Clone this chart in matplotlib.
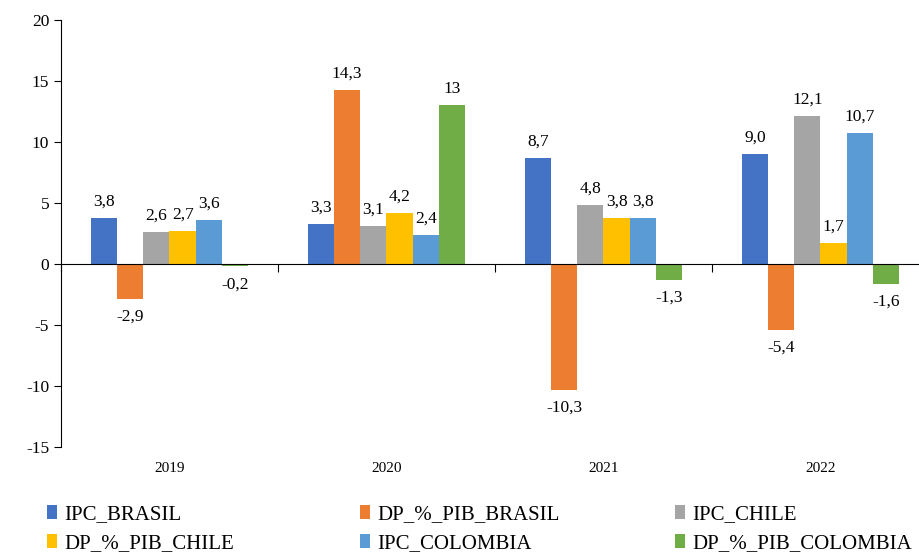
import numpy as np
import matplotlib
matplotlib.use("Agg")
import matplotlib.pyplot as plt
from matplotlib.patches import Patch
import matplotlib.transforms as mtransforms

years = ["2019", "2020", "2021", "2022"]
series = ["IPC_BRASIL", "DP_%_PIB_BRASIL", "IPC_CHILE",
          "DP_%_PIB_CHILE", "IPC_COLOMBIA", "DP_%_PIB_COLOMBIA"]
ipc_brasil = [3.8, 3.3, 8.7, 9.0]
dp_brasil = [-2.9, 14.3, -10.3, -5.4]
ipc_chile = [2.6, 3.1, 4.8, 12.1]
dp_chile = [2.7, 4.2, 3.8, 1.7]
ipc_colombia = [3.6, 2.4, 3.8, 10.7]
dp_colombia = [-0.2, 13, -1.3, -1.6]
colors = ["#4472C4", "#ED7D31", "#A5A5A5", "#FFC000", "#5B9BD5", "#70AD47"]

values = [ipc_brasil, dp_brasil, ipc_chile, dp_chile, ipc_colombia, dp_colombia]

plt.rcParams['font.family'] = ['Liberation Serif', 'DejaVu Serif']
plt.rcParams['axes.unicode_minus'] = False

fig = plt.figure(figsize=(9.2, 5.54), dpi=100)
ax = fig.add_axes([61 / 920, 1 - 447 / 554, 868 / 920, 427 / 554])

x = np.arange(len(years))
width = 0.121
for i, (name, vals, col) in enumerate(zip(series, values, colors)):
    pos = x + (i - 2.5) * width
    ax.bar(pos, vals, width, color=col, label=name, zorder=2)
    for xp, v in zip(pos, vals):
        txt = str(v) if isinstance(v, int) else f"{v:.1f}".replace(".", ",")
        if v >= 0:
            ax.annotate(txt, (xp, v), xytext=(0, 6), textcoords="offset points",
                        ha="center", va="bottom", fontsize=12.5)
        else:
            ax.annotate(txt, (xp, v), xytext=(0, -7), textcoords="offset points",
                        ha="center", va="top", fontsize=12.5)

ax.set_xlim(-0.5, 3.5)
ax.set_ylim(-15, 20)
ax.set_yticks(range(-15, 21, 5))
ax.tick_params(axis="y", labelsize=12.5, length=5, direction="out")

# category axis drawn at zero, ticks on group boundaries
ax.spines["top"].set_visible(False)
ax.spines["right"].set_visible(False)
ax.spines["bottom"].set_position(("data", 0))
ax.spines["bottom"].set_zorder(3)
ax.set_xticks(np.arange(-0.5, 4.0, 1.0))
ax.set_xticklabels([])
ax.tick_params(axis="x", length=6, direction="out")

trans = mtransforms.blended_transform_factory(ax.transData, ax.transAxes)
for xi, yr in zip(x, years):
    ax.text(xi, -0.051, yr, transform=trans, ha="center", va="center", fontsize=11)

# legend in three columns, filled row by row
col_x = [47 / 920, 360 / 920, 675 / 920]
for c in range(3):
    handles = [Patch(facecolor=colors[k], label=series[k]) for k in (c, c + 3)]
    leg = fig.legend(handles=handles, loc="upper left",
                     bbox_to_anchor=(col_x[c], 1 - 505 / 554),
                     frameon=False, fontsize=15, handlelength=0.5, handleheight=0.65,
                     handletextpad=0.35, labelspacing=0.45, borderaxespad=0,
                     borderpad=0)

fig.savefig("out.png", dpi=100)
